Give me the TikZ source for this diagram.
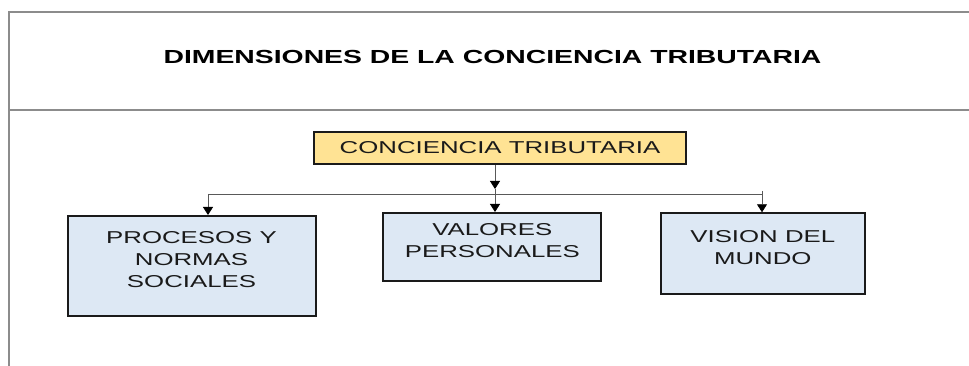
\documentclass[tikz,border=0pt]{standalone}
\usepackage{fontspec}
\setmainfont{Liberation Sans}
\newfontfamily\widefont[FakeStretch=1.5]{Liberation Sans}
\usetikzlibrary{arrows.meta}
\definecolor{ctyellow}{HTML}{FFE394}
\definecolor{ctblue}{HTML}{DDE8F4}
\definecolor{ctframe}{HTML}{8C8C8C}
\definecolor{cttext}{HTML}{1A1A1A}
\tikzstyle{frame} = [draw=ctframe, line width=1.5pt]
\tikzstyle{title} = [font=\widefont\bfseries\fontsize{18.9}{22}\selectfont, text=black]
\tikzstyle{mainbox} = [rectangle, draw=cttext, line width=2pt, fill=ctyellow, minimum width=372pt, minimum height=32pt, inner sep=0pt, font=\widefont\fontsize{17.2}{21.7}\selectfont, text=cttext]
\tikzstyle{dimbox} = [rectangle, draw=cttext, line width=2pt, fill=ctblue, inner sep=0pt]
\tikzstyle{dimtext} = [align=center, font=\widefont\fontsize{17.2}{21.7}\selectfont, text=cttext, yshift=6.5pt]
\tikzstyle{bus} = [draw=black!65, line width=0.8pt]
\tikzstyle{arrow} = [bus, -{Triangle[length=8pt,width=10pt,color=black]}]

\begin{document}
\begin{tikzpicture}[x=1pt, y=1pt]
	\useasboundingbox (0,0) rectangle (969,366);
	% frame of the table
	\draw [frame] (969,354) -- (9,354) -- (9,0);
	\draw [frame] (9,256) -- (969,256);
	\node (title) [title] at (492.5,309.3) {DIMENSIONES DE LA CONCIENCIA TRIBUTARIA};
	\node (conc) [mainbox] at (500,218) {CONCIENCIA TRIBUTARIA};
	\node (proc) [dimbox, minimum width=248pt, minimum height=100pt, label={[dimtext]center:PROCESOS Y\\NORMAS\\SOCIALES}] at (191.5,100) {};
	\node (valo) [dimbox, minimum width=218pt, minimum height=68pt, label={[dimtext]center:VALORES\\PERSONALES}] at (492.3,119) {};
	\node (visi) [dimbox, minimum width=204pt, minimum height=81pt, label={[dimtext]center:VISION DEL\\MUNDO}] at (762.8,112.2) {};
	\coordinate (busL) at (208,172);
	\coordinate (busR) at (762,172);
	\coordinate (tipM) at (495,177);
	\draw [bus] (busL) -- (busR);
	\draw [arrow] (conc.south -| tipM) -- (tipM);
	\draw [arrow] (tipM) -- (valo.north -| tipM);
	\draw [arrow] (busL) -- (proc.north -| busL);
	\draw [arrow] ([yshift=3pt]busR) -- (visi.north -| busR);
\end{tikzpicture}
\end{document}
